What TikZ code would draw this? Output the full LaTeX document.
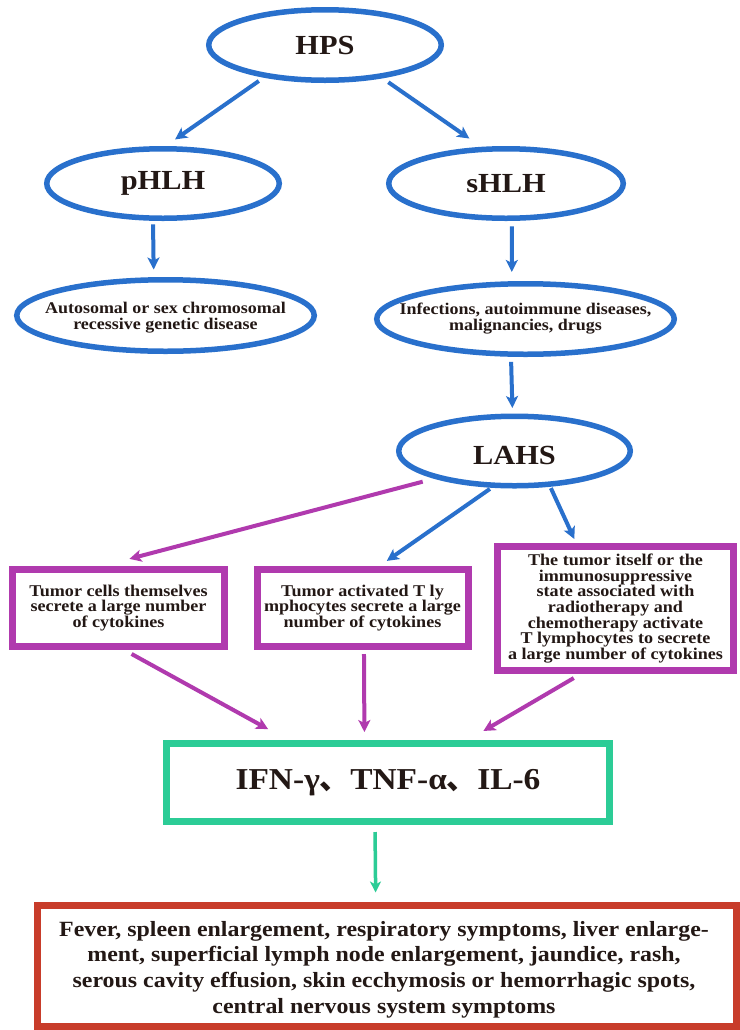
\documentclass[tikz,border=0pt]{standalone}
\usepackage{fontspec}
\setmainfont{Liberation Serif}[FakeStretch=1.1]
\newfontfamily\cjk{Noto Sans CJK SC}
\usetikzlibrary{shapes.geometric,arrows.meta}
\setlength{\lineskiplimit}{-100pt}
\definecolor{ovalblue}{RGB}{41,112,204}
\definecolor{boxpurple}{RGB}{176,58,174}
\definecolor{cytgreen}{RGB}{44,204,150}
\definecolor{symred}{RGB}{200,60,42}
\definecolor{txtcol}{HTML}{231815}
\tikzset{
  oval/.style={ellipse, draw=ovalblue, line width=5.5bp, inner sep=0pt},
  ovaltxt/.style={font=\fontsize{27.7}{30}\selectfont\bfseries, text=txtcol, inner sep=0pt},
  smalltxt/.style={font=\fontsize{16.4}{16}\selectfont\bfseries, text=txtcol, align=center, inner sep=0pt},
  tbox/.style={rectangle, draw=boxpurple, line width=7bp, align=center, text=txtcol, font=\fontsize{16.5}{15.8}\selectfont\bfseries},
  cytbox/.style={rectangle, draw=cytgreen, line width=7bp, text=txtcol, font=\fontsize{30.5}{32}\selectfont\bfseries},
  symbox/.style={rectangle, draw=symred, line width=7bp},
  symtxt/.style={align=center, text=txtcol, inner sep=0pt, font=\fontsize{21.8}{25.7}\selectfont\bfseries},
  barrow/.style={draw=ovalblue, line width=4bp, -{Stealth[length=12bp,width=12bp,inset=3bp]}},
  parrow/.style={draw=boxpurple, line width=4bp, -{Stealth[length=12bp,width=12bp,inset=3bp]}},
  garrow/.style={draw=cytgreen, line width=3.5bp, -{Stealth[length=11bp,width=11bp,inset=3bp]}}
}
\begin{document}
\begin{tikzpicture}[x=1bp,y=-1bp]
    \clip (0,0) rectangle (740,1030);
    \fill[white] (0,0) rectangle (740,1030);

    \node[oval, minimum width=232.5bp, minimum height=70.5bp, label={[ovaltxt]center:HPS}] (hps) at (325,45) {};
    \node[oval, minimum width=232.5bp, minimum height=69.5bp, label={[ovaltxt]center:pHLH}] (phlh) at (163,183.5) {};
    \node[oval, minimum width=234.5bp, minimum height=69.5bp, label={[ovaltxt]center:sHLH}] (shlh) at (506,183.5) {};
    \node[oval, minimum width=297.5bp, minimum height=71.5bp, label={[smalltxt,yshift=-2bp]center:{Autosomal or sex chromosomal\\recessive genetic disease}}] (auto) at (165.5,315.5) {};
    \node[oval, minimum width=297.5bp, minimum height=70.5bp, label={[smalltxt]center:{Infections, autoimmune diseases,\\malignancies, drugs}}] (infect) at (525.5,319) {};
    \node[oval, minimum width=231.5bp, minimum height=69.5bp, label={[ovaltxt,yshift=-4bp]center:LAHS}] (lahs) at (514.5,451) {};

    \node[tbox, minimum width=211bp, minimum height=77bp] (tumor) at (118.5,608) {Tumor cells themselves\\secrete a large number\\of cytokines};
    \node[tbox, minimum width=211bp, minimum height=77bp] (tcell) at (362.5,608) {Tumor activated T ly\\mphocytes secrete a large\\number of cytokines};
    \node[tbox, minimum width=236bp, minimum height=124bp] (immuno) at (615.5,608.5) {The tumor itself or the\\immunosuppressive\\state associated with\\radiotherapy and\\chemotherapy activate\\T lymphocytes to secrete\\a large number of cytokines};

    \node[cytbox, minimum width=443bp, minimum height=78bp] (cyto) at (388,782.5) {IFN-γ{\cjk 、}TNF-α{\cjk 、}IL-6};
    \node[symbox, minimum width=699bp, minimum height=121bp, label={[symtxt,xshift=-3bp,yshift=-4bp]center:{Fever, spleen enlargement, respiratory symptoms, liver enlarge-\\ment, superficial lymph node enlargement, jaundice, rash,\\serous cavity effusion, skin ecchymosis or hemorrhagic spots,\\central nervous system symptoms}}] (sympt) at (387,965.5) {};

    \draw[barrow, shorten <=6bp, shorten >=11.5bp] (hps.208.5) -- (phlh.86);
    \draw[barrow, shorten <=7bp, shorten >=14.5bp] (hps.330.5) -- (shlh.124.4);
    \draw[barrow, shorten <=3.5bp, shorten >=7.6bp] (phlh.255) -- (auto.107.4);
    \draw[barrow, shorten <=5.5bp, shorten >=9.2bp] (shlh.279) -- (infect.110.3);
    \draw[barrow, shorten <=5bp, shorten >=5.5bp] (infect.249.7) -- (lahs.93);

    \draw[parrow, shorten <=12bp, shorten >=28bp] (lahs.199.4) -- (tumor.111.4);
    \draw[barrow, shorten <=2bp, shorten >=8.9bp] (lahs.238.8) -- (tcell.68.9);
    \draw[barrow, shorten <=1.5bp, shorten >=4.4bp] (lahs.315.6) -- (immuno.121.9);

    \draw[parrow, shorten <=8.2bp, shorten >=22.5bp] (tumor.278.5) -- (cyto.157.5);
    \draw[parrow, shorten <=4bp, shorten >=8bp] (tcell.272) -- (cyto.119.5);
    \draw[parrow, shorten <=8bp, shorten >=17.9bp] (immuno.242.2) -- (cyto.28.1);

    \draw[garrow, shorten <=7bp, shorten >=9bp] (cyto.253) -- (sympt.100.7);
\end{tikzpicture}
\end{document}
